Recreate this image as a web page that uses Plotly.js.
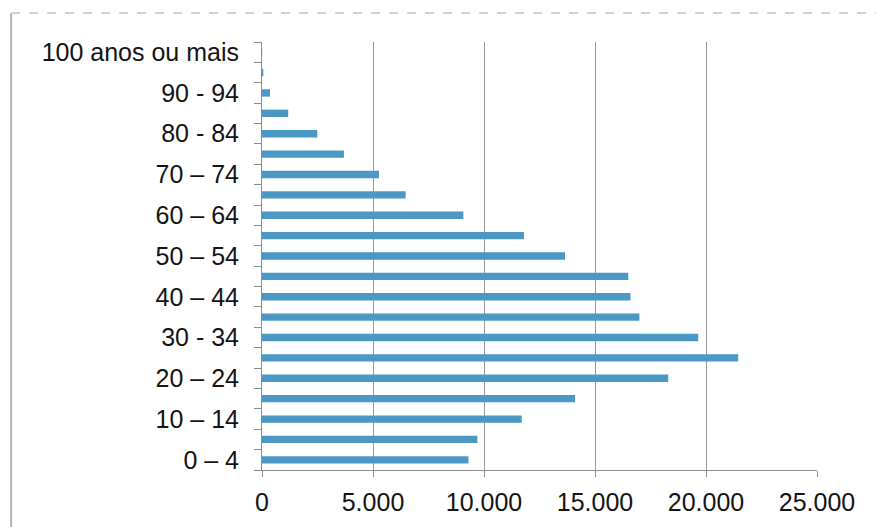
<!DOCTYPE html>
<html>
<head>
<meta charset="utf-8">
<script src="https://cdn.plot.ly/plotly-3.0.1.min.js"></script>
<style>
  html, body { margin: 0; padding: 0; background: #ffffff; }
  #chart { width: 876px; height: 527px; }
</style>
</head>
<body>
<div id="chart"></div>
<script>
// Age groups (bottom to top) and population per group
const ageGroups = [
  "0 – 4", "5 – 9", "10 – 14", "15 – 19", "20 – 24", "25 – 29",
  "30 - 34", "35 – 39", "40 – 44", "45 – 49", "50 – 54", "55 – 59",
  "60 – 64", "65 – 69", "70 – 74", "75 – 79", "80 - 84", "85 – 89",
  "90 - 94", "95 – 99", "100 anos ou mais"
];
const population = [
  9300, 9700, 11700, 14100, 18300, 21450,
  19650, 17000, 16600, 16500, 13650, 11800,
  9070, 6470, 5270, 3690, 2490, 1180,
  360, 60, 10
];
const xTicks = [0, 5000, 10000, 15000, 20000, 25000];

// Only every other age group carries a visible label
const yTickText = ageGroups.map((g, i) => (i % 2 === 0 ? g : ""));

const trace = {
  type: "bar",
  orientation: "h",
  x: population,
  y: ageGroups,
  marker: { color: "#4a98c3", line: { width: 0 } },
  hoverinfo: "x+y"
};

const axisGray = "#8c8c8c";

const layout = {
  width: 876,
  height: 527,
  margin: { l: 262, r: 59, t: 42, b: 57 },
  paper_bgcolor: "#ffffff",
  plot_bgcolor: "#ffffff",
  separators: ",.",
  bargap: 0.64,
  showlegend: false,
  font: { family: "Liberation Sans, Arial, sans-serif", size: 25, color: "#141414" },
  xaxis: {
    range: [0, 25000],
    tickvals: xTicks,
    tickformat: ",.0f",
    showgrid: true,
    gridcolor: "#9a9a9a",
    gridwidth: 1,
    zeroline: false,
    showline: true,
    linecolor: axisGray,
    linewidth: 1,
    ticks: "outside",
    ticklen: 6,
    tickcolor: axisGray,
    ticklabelstandoff: 4,
    fixedrange: true
  },
  yaxis: {
    type: "category",
    categoryorder: "array",
    categoryarray: ageGroups,
    tickvals: ageGroups,
    ticktext: yTickText,
    tickson: "boundaries",
    ticks: "outside",
    ticklen: 7,
    tickcolor: axisGray,
    showgrid: false,
    showline: true,
    linecolor: axisGray,
    linewidth: 1,
    ticklabelstandoff: 17,
    range: [-0.5, 20.5],
    fixedrange: true
  },
  shapes: [
    // outer page frame: left rule and dashed top rule
    { type: "line", xref: "paper", yref: "paper",
      x0: -0.452, x1: -0.452, y0: 1.068, y1: -0.14,
      line: { color: "#b5b5b5", width: 2 } },
    { type: "line", xref: "paper", yref: "paper",
      x0: -0.452, x1: 1.106, y0: 1.068, y1: 1.068,
      line: { color: "#d2d2d2", width: 2, dash: "dash" } }
  ]
};

Plotly.newPlot("chart", [trace], layout, { displayModeBar: false, staticPlot: true });
</script>
</body>
</html>
